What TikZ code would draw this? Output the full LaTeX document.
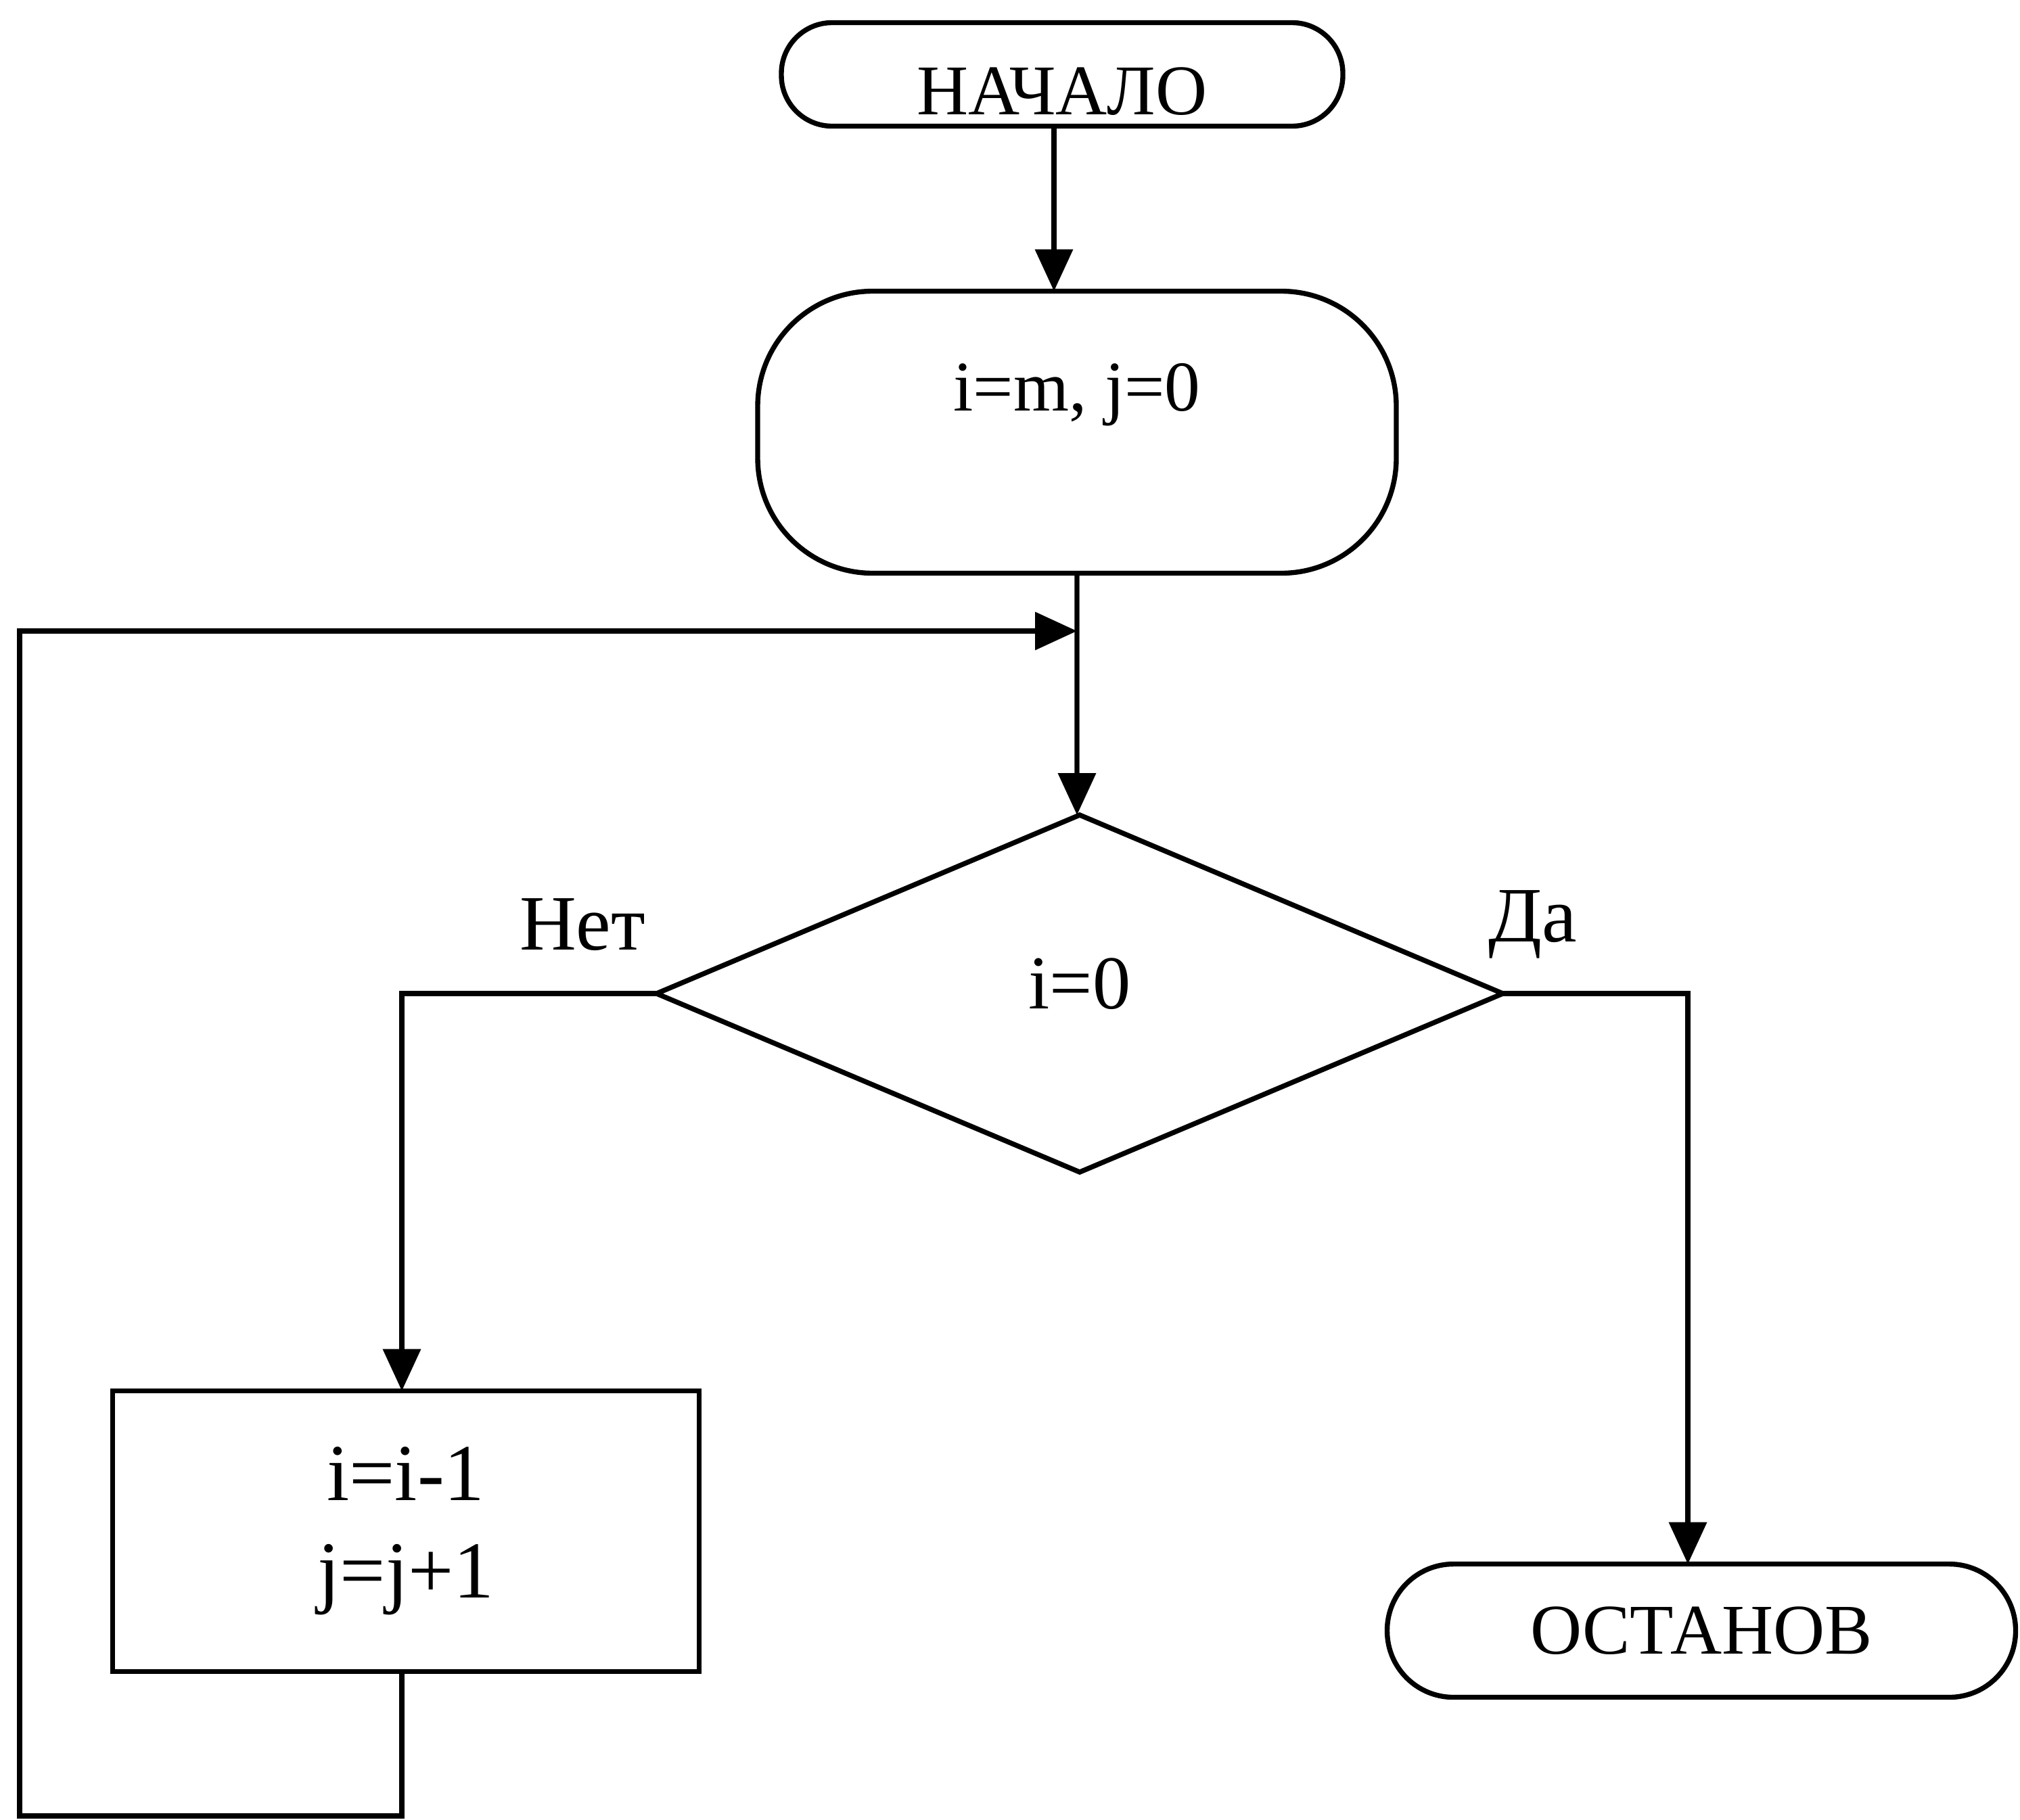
\documentclass[tikz,border=0pt]{standalone}
\usepackage{fontspec}
\setmainfont{Liberation Serif}
\usetikzlibrary{arrows.meta,shapes.geometric}

\begin{document}
\begin{tikzpicture}[
        line width=2.1pt,
        txt/.style={font=\fontsize{30}{36}\selectfont},
        term/.style={draw, rounded corners=0.75cm, minimum width=8.3cm, minimum height=1.53cm, outer sep=0pt, txt},
        initbox/.style={draw, rounded corners=1.7cm, minimum width=9.44cm, minimum height=4.17cm, outer sep=0pt},
        procbox/.style={draw, minimum width=8.67cm, minimum height=4.15cm, align=center, outer sep=0pt, font=\fontsize{34}{41}\selectfont},
        cond/.style={draw, diamond, minimum width=12.51cm, minimum height=5.28cm, inner sep=0pt, outer sep=0pt, font=\fontsize{32}{38}\selectfont},
        lbl/.style={font=\fontsize{33}{40}\selectfont},
        arr/.style={-{Triangle[length=0.62cm, width=0.55cm]}}
    ]
        \useasboundingbox (0,0) rectangle (29.86,-26.90);

        % Start and initialisation
        \node[term, label={[txt, yshift=-0.25cm]center:НАЧАЛО}] (start) at (15.70,-1.10) {};
        \node[initbox, label={[txt, yshift=0.55cm]center:i=m, j=0}] (init) at (15.92,-6.39) {};

        \draw[arr] ([xshift=-1.2mm]start.south) -- ([xshift=-1.2mm]start.south |- init.north);

        % Condition
        \node[cond, label={[font=\fontsize{32}{38}\selectfont, yshift=0.14cm]center:i=0}] (check) at (15.96,-14.69) {};
        \node[lbl] (no) at (8.61,-13.67) {Нет};
        \node[lbl] (yes) at (22.66,-13.67) {Да};

        \coordinate (join) at (15.92,-9.33);
        \draw[arr] (init.south) -- ([xshift=-0.4mm]check.north);

        % Branches
        \node[procbox] (step) at (6.00,-22.64) {i=i-1\\j=j+1};
        \node[term, rounded corners=0.98cm, minimum width=9.29cm, minimum height=1.97cm] (stop) at (25.15,-24.11) {ОСТАНОВ};

        \draw[arr] (check.west) -| ([xshift=-0.6mm]step.north);
        \draw[arr] (check.east) -| ([xshift=-2mm]stop.north);

        % Loop back
        \coordinate (corner) at (0.29,-26.85);
        \draw[arr] ([xshift=-0.6mm]step.south) |- (corner) |- (join);
    \end{tikzpicture}
\end{document}
